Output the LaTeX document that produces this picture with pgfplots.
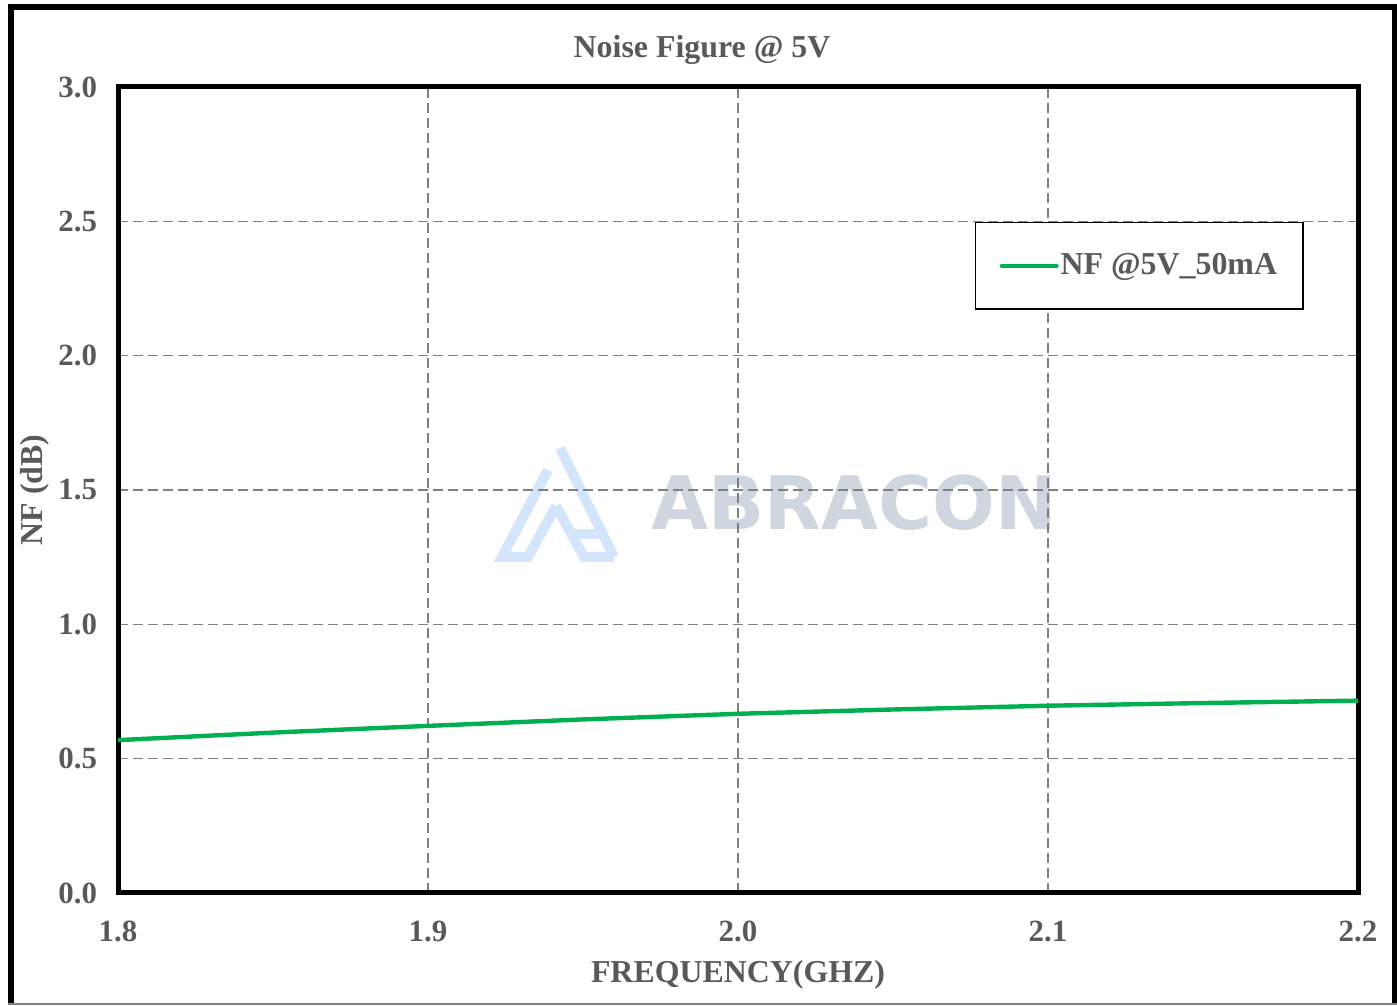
\documentclass[border=0pt]{standalone}
\usepackage{pgfplots}
\pgfplotsset{compat=1.18}
\usepackage{fontspec}
\setmainfont{Liberation Serif}
\newfontfamily\wmfont{DejaVu Sans}
\definecolor{txtgray}{HTML}{595959}
\definecolor{gridgray}{HTML}{808080}
\definecolor{nfgreen}{HTML}{00B050}
\definecolor{wmgray}{HTML}{D0D6E0}
\definecolor{wmblue}{HTML}{D4E4FB}

\pgfplotstableread{
f    nf
1.80 0.569
1.85 0.597
1.90 0.622
1.95 0.646
2.00 0.667
2.05 0.683
2.10 0.697
2.15 0.707
2.20 0.716
}\nfdata

\begin{document}
\begin{tikzpicture}[x=1bp,y=1bp]
\useasboundingbox (0,0) rectangle (698.5,503);
% watermark (px -> bp: x/2, (1006-y)/2)
\begin{scope}[wmblue, line width=5bp, line cap=butt]
  \draw (280,279) -- (307,224.5);
  \draw (274,268) -- (251,224.5) -- (264,224.5) -- (278,250);
  \draw (278,250) -- (292,224.5) -- (307,224.5);
  \draw (286,236) -- (300,236);
\end{scope}
\node[text=wmgray, font=\wmfont\bfseries\fontsize{37}{37}\selectfont, inner sep=0] at (427,251.5) {ABRACON};

\begin{axis}[
    scale only axis,
    width=620bp, height=403bp,
    at={(59bp,56.5bp)}, anchor=south west,
    xmin=1.8, xmax=2.2, ymin=0, ymax=3,
    xtick={1.8,1.9,2.0,2.1,2.2},
    ytick={0,0.5,1,1.5,2,2.5,3},
    /pgf/number format/assume math mode=true,
    /pgf/number format/.cd, fixed, fixed zerofill, precision=1, /pgfplots/.cd,
    tick label style={font=\fontsize{15.5}{18}\selectfont\bfseries, text=txtgray},
    xticklabel style={yshift=-10.5bp},
    yticklabel style={xshift=-7bp},
    major tick length=0pt,
    grid=major,
    grid style={gridgray, line width=0.75bp, dash pattern=on 5bp off 2.5bp},
    axis line style={line width=2.5bp, black},
    title={Noise Figure @ 5V},
    title style={at={(axis description cs:0.471,1.0496)}, anchor=center, yshift=-7.5bp,
      font=\fontsize{16}{19}\selectfont\bfseries, text=txtgray},
    xlabel={FREQUENCY(GHZ)},
    xlabel style={at={(axis description cs:0.5,-0.1017)}, anchor=center,
      font=\fontsize{16}{19}\selectfont\bfseries, text=txtgray},
    ylabel={NF (dB)},
    ylabel style={at={(axis description cs:-0.0669,0.5)}, anchor=center, rotate=0,
      font=\fontsize{16}{19}\selectfont\bfseries, text=txtgray},
    legend style={at={(axis description cs:0.691,0.8325)}, anchor=north west,
      draw=black, line width=0.75bp, inner xsep=12bp, inner ysep=14.5bp,
      font=\fontsize{16}{19}\selectfont\bfseries, text=txtgray,
      nodes={inner sep=1bp}},
    legend image code/.code={\draw[#1, line width=2bp, line cap=round] (0bp,0bp) -- (27.5bp,0bp);},
]
\addplot[nfgreen, line width=2.2bp] table[x=f, y=nf] {\nfdata};
\addlegendentry{NF @5V\_50mA}
\end{axis}
% outer frame
\draw[black, line width=3bp] (5.5,1) -- (5.5,499.5) -- (697.5,499.5) -- (697.5,1);
\draw[gridgray, line width=0.75bp] (4,1) -- (699,1);
\end{tikzpicture}
\end{document}
